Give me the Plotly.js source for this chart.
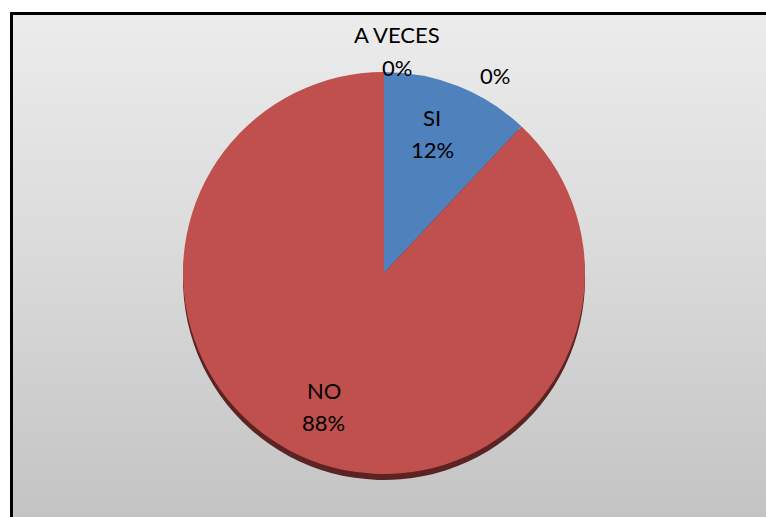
<!DOCTYPE html>
<html>
<head>
<meta charset="utf-8">
<script src="https://cdn.plot.ly/plotly-3.0.1.min.js"></script>
<style>
  html, body { margin: 0; padding: 0; width: 766px; height: 517px; overflow: hidden; background: #ffffff; }
  #frame { position: absolute; left: 10px; top: 12px; width: 766px; height: 517px;
           border: 3px solid #000; box-sizing: border-box;
           background: linear-gradient(to bottom, #ececec 0%, #d9d9d9 50%, #c3c3c3 100%); }
  #chart { position: absolute; left: 0; top: 0; width: 766px; height: 517px; }
</style>
</head>
<body>
<div id="frame"></div>
<div id="chart"></div>
<script>
const labels = ["SI", "NO", "A VECES", ""];
const values = [12, 88, 0, 0];
const colors = ["#4F81BD", "#C0504D", "#9BBB59", "#8064A2"];

const W = 766, H = 517;
const CX = 384, CY = 273, R = 201;          // pie centre/radius in pixels (layout)
const fontFam = "Lato, 'Liberation Sans', sans-serif";
const FS = 22, LINE = 32;

const total = values.reduce((a, b) => a + b, 0);
const pct = values.map(v => Math.round(v / total * 100) + "%");
const ids = labels.map((l, i) => "c" + i);

const dom = { x: [(CX - R) / W, (CX + R) / W], y: [(H - CY - R) / H, (H - CY + R) / H] };
const domShadow = { x: dom.x, y: [(H - CY - R - 6) / H, (H - CY + R - 6) / H] };

const shadow = {
  type: "pie", ids: ids, labels: ids, values: values,
  sort: false, direction: "clockwise", rotation: 0,
  marker: { colors: values.map(() => "#5b2321"), line: { width: 0 } },
  textinfo: "none", hoverinfo: "skip", showlegend: false,
  domain: domShadow
};

const pie = {
  type: "pie", ids: ids, labels: ids, values: values,
  sort: false, direction: "clockwise", rotation: 0,
  marker: { colors: colors, line: { width: 0 } },
  textinfo: "none", hoverinfo: "skip", showlegend: false,
  domain: dom
};

// label placement: non-zero slices along the slice mid-angle;
// zero slices sit outside the top of the pie (as in the reference)
const zeroPos = [[397, 51], [495, 75]];
const annotations = [];
let cum = 0, zi = 0;
function addText(txt, px, py) {
  annotations.push({ xref: "paper", yref: "paper", x: px / W, y: 1 - py / H,
    text: txt, showarrow: false, xanchor: "center", yanchor: "middle",
    font: { family: fontFam, size: FS, color: "#000" } });
}
values.forEach((v, i) => {
  let px, py;
  if (v > 0) {
    const mid = (cum + v / 2) / total * 2 * Math.PI;
    px = CX + 0.73 * R * Math.sin(mid) - 6;
    py = CY - 0.73 * R * Math.cos(mid) - 3;
  } else {
    [px, py] = zeroPos[zi++];
  }
  cum += v;
  if (labels[i]) {
    addText(labels[i], px, py - LINE / 2);
    addText(pct[i], px, py + LINE / 2);
  } else {
    addText(pct[i], px, py);
  }
});

const layout = {
  width: W, height: H,
  margin: { l: 0, r: 0, t: 0, b: 0 },
  paper_bgcolor: "rgba(0,0,0,0)",
  plot_bgcolor: "rgba(0,0,0,0)",
  showlegend: false,
  font: { family: fontFam, size: FS, color: "#000" },
  annotations: annotations
};

Plotly.newPlot("chart", [shadow, pie], layout, { displayModeBar: false, staticPlot: true });
</script>
</body>
</html>
